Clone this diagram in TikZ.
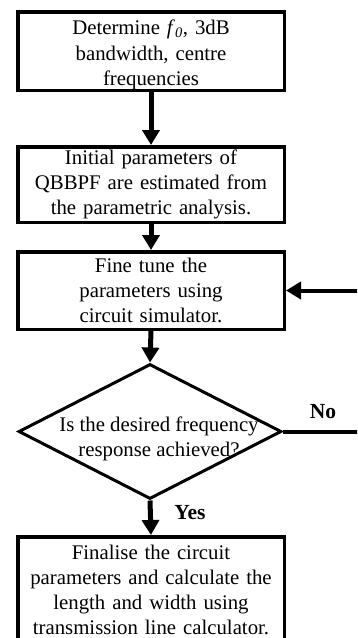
\documentclass[tikz,border=0pt]{standalone}
\usepackage{fontspec}
\setmainfont{Liberation Serif}
\usetikzlibrary{arrows.meta,shapes.geometric}
\begin{document}
\begin{tikzpicture}[x=1pt,y=1pt,
  stepbox/.style={draw, line width=3.5pt, minimum width=266.5pt, inner sep=0pt,
    text width=266pt, align=center, font=\fontsize{20.8}{25}\selectfont},
  decision/.style={draw, shape=diamond, line width=3pt, inner sep=0pt,
    minimum width=263pt, minimum height=135pt},
  flow/.style={line width=5pt, -{Triangle[length=15pt,width=17pt]}},
  back/.style={line width=4pt},
  answer/.style={font=\fontsize{21.5}{25}\selectfont\bfseries}]
\useasboundingbox (0,0) rectangle (357,-638);
\clip (0,0) rectangle (357,-638);

% process steps
\node[stepbox, minimum height=78.5pt, text height=22pt] (b1) at (151,-51)
  {Determine \textit{f}\textsubscript{\textit{0}}, 3dB\\[1pt] bandwidth, centre\\ frequencies};
\node[stepbox, minimum height=75.5pt] (b2) at (151,-184.5)
  {Initial parameters of\\ QBBPF are estimated from\\ the parametric analysis.};
\node[stepbox, minimum height=77.5pt] (b3) at (151,-290.5)
  {Fine tune the\\ parameters using\\ circuit simulator.};
\node[decision] (dec) at (150,-431.5) {};
\node[font=\fontsize{20.8}{25}\selectfont, align=center] (q) at (159,-439)
  {Is the desired frequency\\ response achieved?};
\node[stepbox, minimum height=105.5pt] (b4) at (151,-589.5)
  {Finalise the circuit\\ parameters and calculate the\\ length and width using\\ transmission line calculator.};

% answers
\node[answer] (no) at (323,-412) {No};
\node[answer] (yes) at (190,-513) {Yes};

% main flow
\draw[flow] (b1.south) -- (b2.north);
\draw[flow] (b2.south) -- (b3.north);
\draw[flow] (b3.south) -- (dec.north);
\draw[flow] (dec.south) -- (b4.north);

% feedback loop running off to the right
\coordinate (rimA) at (360,-434);
\coordinate (rimB) at (360,-291);
\draw[back] (dec.east) -- (dec.east -| rimA);
\draw[flow, line width=4pt] (rimB |- b3.east) -- (b3.east);
\end{tikzpicture}
\end{document}
